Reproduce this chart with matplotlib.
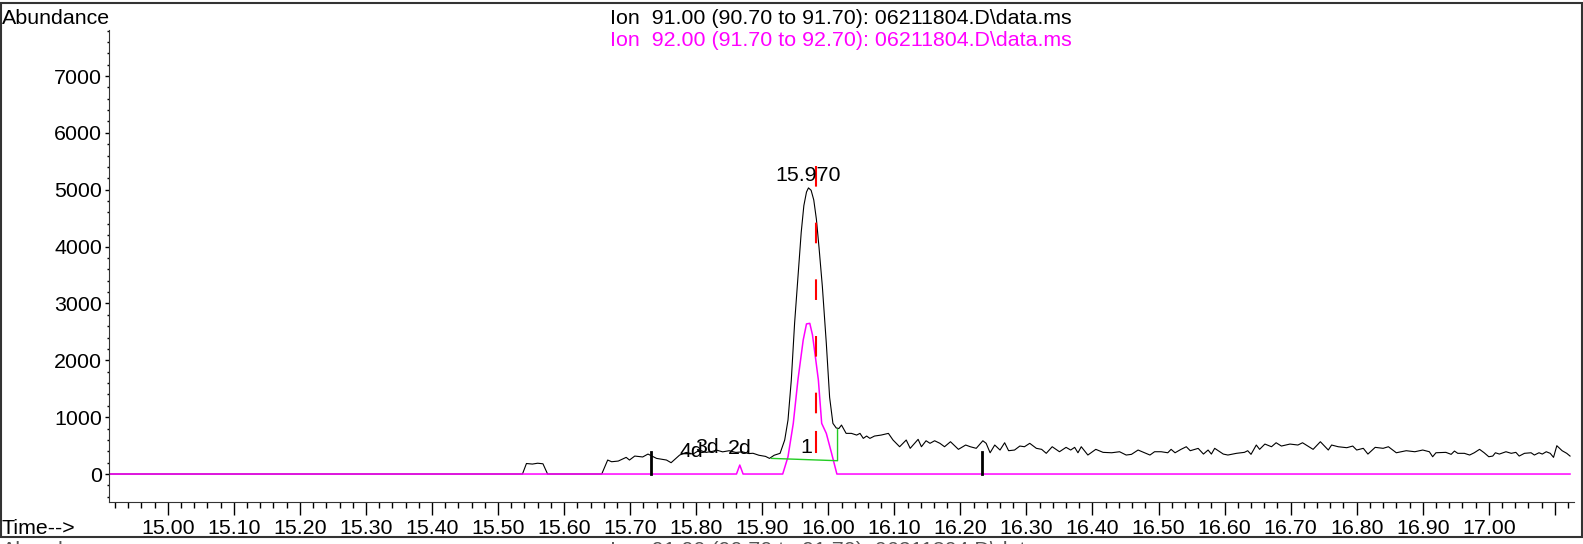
import matplotlib
matplotlib.use("Agg")
import matplotlib.pyplot as plt
from matplotlib.patches import Rectangle
from matplotlib.ticker import MultipleLocator, FuncFormatter

plt.rcParams['font.family'] = ['Liberation Sans', 'DejaVu Sans']
FS = 15.4

# ion 91 trace (time in min, abundance)
t91 = [14.911, 15.537, 15.543, 15.552, 15.560, 15.568, 15.575, 15.657,
       15.666, 15.672, 15.682, 15.694, 15.699, 15.707, 15.719, 15.727, 15.740,
       15.755, 15.762, 15.775, 15.785, 15.795, 15.805, 15.815, 15.825, 15.831,
       15.840, 15.850, 15.860, 15.870, 15.880, 15.886, 15.895, 15.905, 15.911,
       15.918, 15.927, 15.934, 15.939, 15.944, 15.949, 15.955, 15.959, 15.963,
       15.967, 15.970, 15.974, 15.978, 15.982, 15.986, 15.991, 15.997, 16.002,
       16.007, 16.012, 16.016, 16.020,
       16.027, 16.035, 16.043, 16.048, 16.053, 16.058, 16.063, 16.070, 16.080,
       16.091, 16.098, 16.108, 16.118, 16.124, 16.136, 16.141, 16.148, 16.154,
       16.161, 16.169, 16.176, 16.185, 16.197, 16.208, 16.215, 16.224, 16.234,
       16.239, 16.245, 16.252, 16.260, 16.267, 16.273, 16.282, 16.290, 16.297,
       16.305, 16.315, 16.323, 16.330, 16.339, 16.350, 16.360, 16.367, 16.373,
       16.378, 16.383, 16.393, 16.405, 16.416, 16.429, 16.441, 16.451, 16.459,
       16.469, 16.479, 16.487, 16.494, 16.504, 16.514, 16.519, 16.525, 16.534,
       16.542, 16.548, 16.560, 16.568, 16.575, 16.580, 16.585, 16.598, 16.605,
       16.618, 16.630, 16.635, 16.640, 16.648, 16.653, 16.661, 16.671, 16.678,
       16.686, 16.699, 16.711, 16.718, 16.726, 16.734, 16.745, 16.757, 16.762,
       16.772, 16.785, 16.794, 16.800, 16.810, 16.817, 16.828, 16.840, 16.848,
       16.860, 16.875, 16.888, 16.900, 16.910, 16.915, 16.920, 16.935, 16.943,
       16.948, 16.953, 16.963, 16.971, 16.978, 16.986, 16.993, 17.000, 17.006,
       17.010, 17.016, 17.026, 17.034, 17.041, 17.046, 17.054, 17.064, 17.069,
       17.076, 17.081, 17.087, 17.093, 17.098, 17.103, 17.111, 17.118, 17.123]
a91 = [0, 0, 185, 175, 190, 180, 0, 0,
       246, 216, 228, 293, 246, 316, 300, 351, 275,
       246, 199, 334, 380, 350, 420, 380, 400, 420,
       390, 410, 380, 390, 360, 365, 330, 310, 275,
       330, 364, 598, 949, 1652, 2654, 3600, 4250, 4720,
       4960, 5032, 4990, 4820, 4480, 3980, 3300, 2300, 1350,
       891, 810, 800, 861,
       715, 715, 685, 715, 627, 668, 627, 668, 685,
       715, 598, 480, 598, 452, 610, 480, 585, 540,
       585, 540, 480, 568, 434, 510, 480, 452, 585,
       540, 374, 510, 422, 550, 410, 422, 492, 480,
       540, 452, 434, 364, 480, 392, 469, 422, 469,
       374, 480, 334, 434, 381, 374, 392, 334, 346,
       422, 374, 334, 392, 392, 374, 434, 374, 434,
       480, 410, 451, 351, 422, 351, 452, 351, 334,
       364, 381, 410, 346, 510, 434, 527, 480, 550,
       492, 527, 510, 550, 492, 434, 568, 422, 510,
       480, 463, 492, 422, 452, 351, 469, 452, 480,
       374, 410, 392, 422, 392, 304, 374, 381, 346,
       404, 364, 364, 334, 374, 434, 374, 304, 316,
       374, 351, 392, 364, 381, 316, 364, 374, 334,
       374, 351, 392, 364, 293, 498, 410, 364, 316]

# ion 92 trace
t92 = [14.911, 15.861, 15.866, 15.871, 15.931, 15.939, 15.947, 15.954, 15.962,
       15.967, 15.972, 15.976, 15.980, 15.985, 15.990, 15.997, 16.005, 16.013, 17.123]
a92 = [0, 0, 158, 0, 0, 304, 891, 1652, 2355,
       2640, 2650, 2450, 2100, 1652, 891, 715, 364, 0, 0]

# integration baseline, expected RT line, tick marks
base_t = [15.914, 16.014, 16.014]
base_a = [275, 234, 786]
rt_t = [15.982, 15.982]
rt_a = [5413, 1040]
rt_tick = [740, 387]
mark_t = [15.731, 16.232]
mark_a = [390, 392]

peak_labels = [("15.970", 15.969, 5255, 'center'), ("1", 15.967, 475, 'center'),
               ("4d", 15.775, 400, 'left'), ("3d", 15.798, 460, 'left'),
               ("2d", 15.848, 452, 'left')]

fig = plt.figure(figsize=(15.83, 5.44), dpi=100)
ax = fig.add_axes([109 / 1583, 1 - 502 / 544, (1574 - 109) / 1583, (502 - 30) / 544])

ax.plot(t91, a91, color='black', lw=0.8)
ax.plot(t92, a92, color='#ff00ff', lw=1.1)
ax.plot(base_t, base_a, color='#22cc22', lw=1.0)
ax.plot(rt_t, rt_a, color='red', lw=1.5, dashes=(9.9, 17.3))
ax.plot(rt_t, rt_tick, color='red', lw=1.5)
for t, a in zip(mark_t, mark_a):
    ax.plot([t, t], [0, a], color='black', lw=2)

for txt, x, y, ha in peak_labels:
    ax.text(x, y, txt, ha=ha, va='center', fontsize=FS)

ax.set_xlim(14.911, 17.129)
ax.set_ylim(-492, 7809)
ax.spines['top'].set_visible(False)
ax.spines['right'].set_visible(False)
ax.spines['left'].set_color('#333333')
ax.spines['bottom'].set_color('#333333')

ax.xaxis.set_major_locator(MultipleLocator(0.1))
ax.xaxis.set_minor_locator(MultipleLocator(0.02))
ax.xaxis.set_major_formatter(FuncFormatter(lambda v, p: '' if v > 17.05 else f"{v:.2f}"))
ax.yaxis.set_major_locator(MultipleLocator(1000))
ax.yaxis.set_minor_locator(MultipleLocator(200))
ax.yaxis.set_major_formatter(FuncFormatter(lambda v, p: f"{v:.0f}" if v >= 0 else ''))
ax.tick_params(axis='x', which='major', length=9, width=1, pad=3, labelsize=FS)
ax.tick_params(axis='x', which='minor', length=4.5, width=1)
ax.tick_params(axis='y', which='major', length=3, width=1, pad=2, labelsize=FS)
ax.tick_params(axis='y', which='minor', length=1.5, width=1)

fig.text(2 / 1583, 1 - 18 / 544, "Abundance", ha='left', va='center', fontsize=FS)
fig.text(2 / 1583, 1 - 528 / 544, "Time-->", ha='left', va='center', fontsize=FS)
fig.text(841 / 1583, 1 - 19 / 544, "Ion  91.00 (90.70 to 91.70): 06211804.D\\data.ms",
         ha='center', va='center', fontsize=FS)
fig.text(841 / 1583, 1 - 41 / 544, "Ion  92.00 (91.70 to 92.70): 06211804.D\\data.ms",
         ha='center', va='center', fontsize=FS, color='#ff00ff')
# next panel header, cut off at the bottom edge
fig.text(2 / 1583, 1 - 541 / 544, "Abundance", ha='left', va='top', fontsize=FS, color='#555555')
fig.text(841 / 1583, 1 - 541 / 544, "Ion  91.00 (90.70 to 91.70): 06211804.D\\data.ms",
         ha='center', va='top', fontsize=FS, color='#555555')

fig.patches.append(Rectangle((1 / 1583, 1 - 537 / 544), 1581 / 1583, 534 / 544,
                             transform=fig.transFigure, fill=False,
                             edgecolor='#333333', lw=1.5))

fig.savefig('out.png', dpi=100)
